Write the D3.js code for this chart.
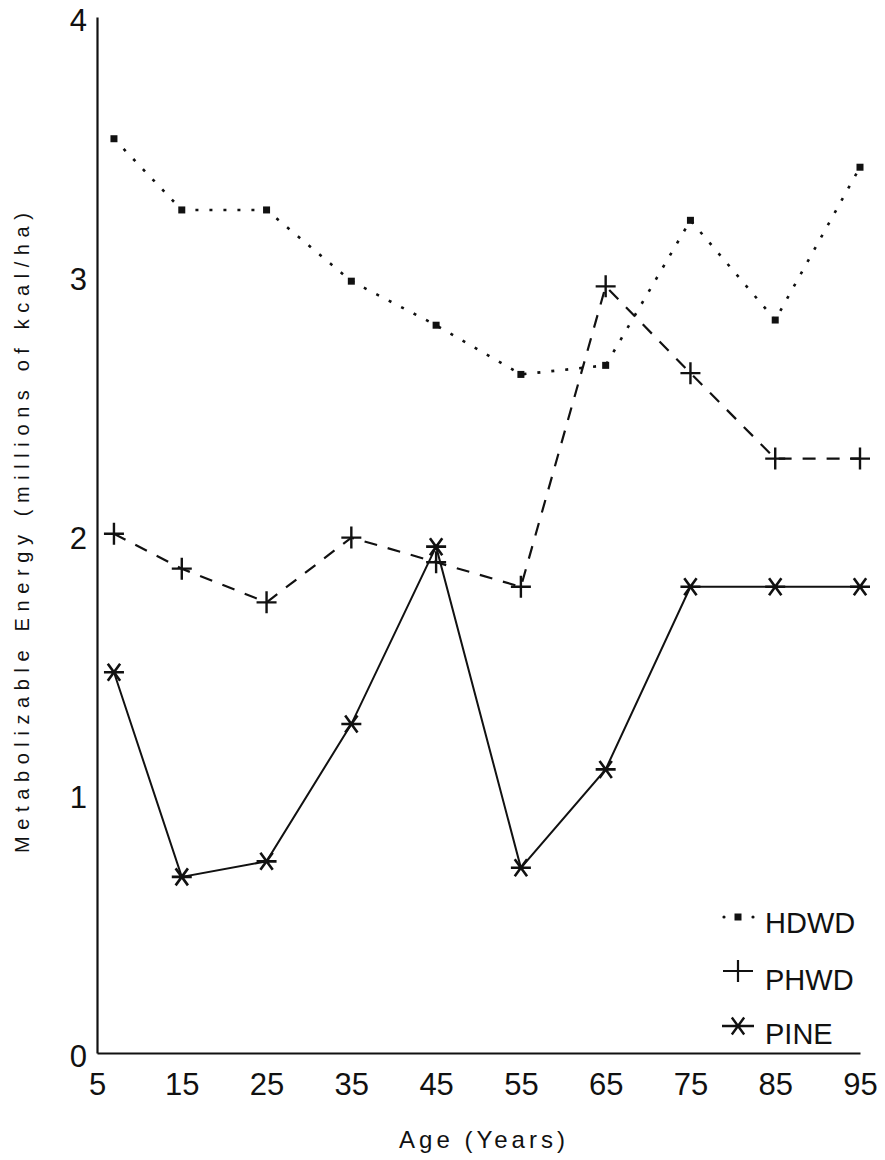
<!DOCTYPE html>
<html>
<head>
<meta charset="utf-8">
<script src="https://cdn.jsdelivr.net/npm/d3@7"></script>
<style>
  html, body { margin: 0; padding: 0; background: #fff; }
  svg { display: block; }
  text { font-family: "Liberation Sans", Arial, sans-serif; fill: #111; }
</style>
</head>
<body>
<svg id="chart" width="885" height="1160"></svg>
<script>
// Stand age classes (years) and metabolizable energy (millions of kcal/ha)
const ages = [7, 15, 25, 35, 45, 55, 65, 75, 85, 95];
const hdwd = [3.53, 3.255, 3.255, 2.98, 2.81, 2.62, 2.655, 3.215, 2.83, 3.42];
const phwd = [2.005, 1.87, 1.74, 1.99, 1.895, 1.80, 2.96, 2.625, 2.295, 2.295];
const pine = [1.47, 0.68, 0.74, 1.27, 1.955, 0.715, 1.095, 1.80, 1.80, 1.80];
const xTicks = [5, 15, 25, 35, 45, 55, 65, 75, 85, 95];
const yTicks = [0, 1, 2, 3, 4];
const seriesNames = ["HDWD", "PHWD", "PINE"];

const svg = d3.select("#chart");
const ink = "#111";

const x = d3.scaleLinear().domain([5, 95]).range([97, 860]);
const y = d3.scaleLinear().domain([0, 4]).range([1053, 17]);

// Axes
const xAxis = svg.append("g")
  .attr("transform", `translate(0,${y(0)})`)
  .call(d3.axisBottom(x).tickValues(xTicks).tickSize(0).tickPadding(20).tickFormat(d3.format("d")));
xAxis.select(".domain").attr("stroke", ink).attr("stroke-width", 2.2);
xAxis.selectAll("text").attr("font-size", 31).attr("fill", ink)
  .attr("font-family", "Liberation Sans, Arial, sans-serif");

const yAxis = svg.append("g")
  .attr("transform", `translate(${x(5)},0)`)
  .call(d3.axisLeft(y).tickValues(yTicks).tickSize(0).tickPadding(10).tickFormat(d3.format("d")));
yAxis.select(".domain").attr("stroke", ink).attr("stroke-width", 2.2);
yAxis.selectAll("text").attr("font-size", 31).attr("fill", ink).attr("dy", "0.42em")
  .attr("font-family", "Liberation Sans, Arial, sans-serif");

// Axis titles
svg.append("text")
  .attr("x", 482).attr("y", 1148)
  .attr("text-anchor", "middle")
  .attr("font-size", 24)
  .attr("textLength", 166).attr("lengthAdjust", "spacing")
  .text("Age (Years)");

svg.append("text")
  .attr("transform", "translate(29,533) rotate(-90)")
  .attr("text-anchor", "middle")
  .attr("font-size", 20)
  .attr("textLength", 640).attr("lengthAdjust", "spacing")
  .text("Metabolizable Energy (millions of kcal/ha)");

// Series lines
const line = d3.line().x(d => x(d[0])).y(d => y(d[1]));
const pts = vals => ages.map((a, i) => [a, vals[i]]);

svg.append("path").datum(pts(hdwd))
  .attr("d", line).attr("fill", "none").attr("stroke", ink)
  .attr("stroke-width", 2.6).attr("stroke-dasharray", "3,11");

svg.append("path").datum(pts(phwd))
  .attr("d", line).attr("fill", "none").attr("stroke", ink)
  .attr("stroke-width", 2.2).attr("stroke-dasharray", "13,11");

svg.append("path").datum(pts(pine))
  .attr("d", line).attr("fill", "none").attr("stroke", ink)
  .attr("stroke-width", 2);

// Marker shapes
function plusPath(h, v) {
  return `M${-h},0H${h}M0,${-v}V${v}`;
}
function starPath(h, r) {
  const a = Math.PI * 0.3;
  const dx = r * Math.cos(a), dy = r * Math.sin(a);
  return `M${-h},0H${h}M${-dx},${-dy}L${dx},${dy}M${-dx},${dy}L${dx},${-dy}`;
}

svg.append("g").selectAll("rect").data(pts(hdwd)).join("rect")
  .attr("x", d => x(d[0]) - 3.5).attr("y", d => y(d[1]) - 3.5)
  .attr("width", 7).attr("height", 7).attr("fill", ink);

svg.append("g").selectAll("path").data(pts(phwd)).join("path")
  .attr("transform", d => `translate(${x(d[0])},${y(d[1])})`)
  .attr("d", plusPath(10, 11)).attr("stroke", ink).attr("stroke-width", 2.4).attr("fill", "none");

svg.append("g").selectAll("path").data(pts(pine)).join("path")
  .attr("transform", d => `translate(${x(d[0])},${y(d[1])})`)
  .attr("d", starPath(10, 10.5)).attr("stroke", ink).attr("stroke-width", 2.6).attr("fill", "none");

// Legend
const legend = svg.append("g");
const legRows = [
  { name: seriesNames[0], ty: 933, sy: 917 },
  { name: seriesNames[1], ty: 990, sy: 971 },
  { name: seriesNames[2], ty: 1044, sy: 1026 }
];
legend.selectAll("text").data(legRows).join("text")
  .attr("x", 765).attr("y", d => d.ty)
  .attr("font-size", 29)
  .text(d => d.name);

// HDWD key: dotted segment with a centre point
legend.selectAll("circle.k").data([724, 753]).join("circle")
  .attr("cx", d => d).attr("cy", legRows[0].sy).attr("r", 1.6).attr("fill", ink);
legend.append("rect")
  .attr("x", 738 - 3.5).attr("y", legRows[0].sy - 3.5)
  .attr("width", 7).attr("height", 7).attr("fill", ink);

// PHWD key
legend.append("path")
  .attr("transform", `translate(738,${legRows[1].sy})`)
  .attr("d", plusPath(15, 11)).attr("stroke", ink).attr("stroke-width", 2.2).attr("fill", "none");

// PINE key
legend.append("path")
  .attr("transform", `translate(738,${legRows[2].sy})`)
  .attr("d", starPath(16, 10.5)).attr("stroke", ink).attr("stroke-width", 2.4).attr("fill", "none");
</script>
</body>
</html>
